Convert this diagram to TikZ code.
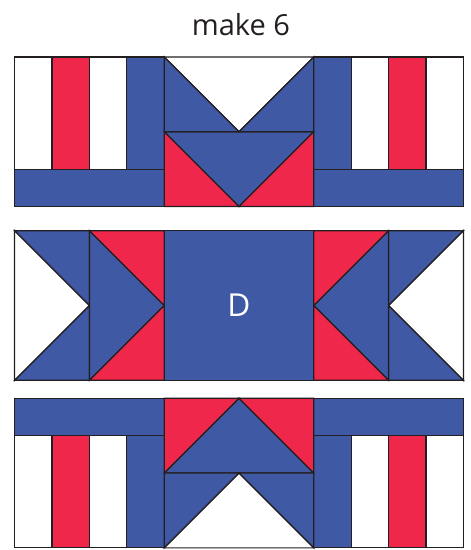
\documentclass[tikz,border=0pt]{standalone}
\usepackage{fontspec}
\setmainfont{Open Sans}

\definecolor{quiltblue}{HTML}{4059A5}
\definecolor{quiltred}{HTML}{EF274B}
\definecolor{quiltline}{HTML}{231F20}

\tikzset{
  patch/.style={draw=quiltline,line width=0.7pt,line join=miter},
  bluepatch/.style={patch,fill=quiltblue},
  redpatch/.style={patch,fill=quiltred},
  whitepatch/.style={patch,fill=white},
}

\begin{document}
\begin{tikzpicture}[x=0.748cm,y=0.748cm]

    % --- page size ---
    \useasboundingbox (-6.39,-6.537) rectangle (6.176,8.168);

    % --- title ---
    \node[font=\fontsize{16.5}{20}\selectfont,text=quiltline] (title) at (0.05,7.52) {make 6};

    % --- top and bottom rows ---
    \foreach \rowy/\sy in {4.645/1,-4.48/-1} {
      \begin{scope}[shift={(0,\rowy)},yscale=\sy]
        % flying geese
        \draw[whitepatch] (-2,2) -- (2,2) -- (0,0) -- cycle;
        \draw[bluepatch] (-2,0) -- (2,0) -- (0,-2) -- cycle;
        \foreach \sx in {1,-1} {
          \begin{scope}[xscale=\sx]
            % strips
            \draw[whitepatch] (-6,-1) rectangle (-5,2);
            \draw[redpatch] (-5,-1) rectangle (-4,2);
            \draw[whitepatch] (-4,-1) rectangle (-3,2);
            \draw[bluepatch] (-3,-1) rectangle (-2,2);
            \draw[bluepatch] (-6,-2) rectangle (-2,-1);
            % corners
            \draw[bluepatch] (-2,2) -- (0,0) -- (-2,0) -- cycle;
            \draw[redpatch] (-2,0) -- (0,-2) -- (-2,-2) -- cycle;
          \end{scope}
        }
      \end{scope}
    }

    % --- middle row ---
    \foreach \sx in {1,-1} {
      \begin{scope}[xscale=\sx]
        \draw[whitepatch] (-6,2) -- (-4,0) -- (-6,-2) -- cycle;
        \draw[bluepatch] (-6,2) -- (-4,2) -- (-4,0) -- cycle;
        \draw[bluepatch] (-6,-2) -- (-4,-2) -- (-4,0) -- cycle;
        \draw[bluepatch] (-4,2) -- (-2,0) -- (-4,-2) -- cycle;
        \draw[redpatch] (-4,2) -- (-2,2) -- (-2,0) -- cycle;
        \draw[redpatch] (-4,-2) -- (-2,-2) -- (-2,0) -- cycle;
      \end{scope}
    }

    % centre square
    \draw[bluepatch] (-2,-2) rectangle (2,2);
    \node[font=\fontsize{18}{20}\selectfont,text=white] (centre) at (0,0) {D};

\end{tikzpicture}
\end{document}
